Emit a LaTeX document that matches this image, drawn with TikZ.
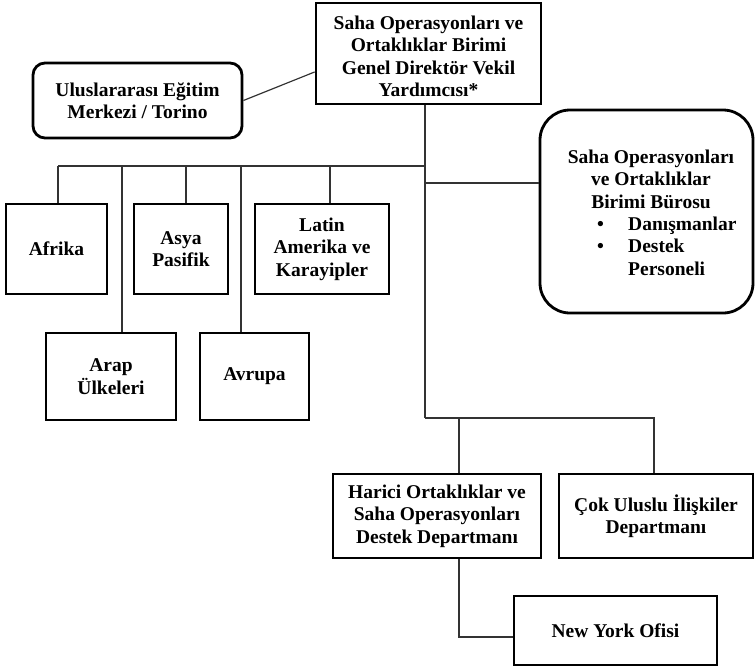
\documentclass[tikz,border=0pt]{standalone}
\usepackage{fontspec}
\setmainfont{Liberation Serif}
\usetikzlibrary{calc}
\begin{document}
\begin{tikzpicture}[x=1pt,y=-1pt,
  box/.style={draw=black, line width=2.8pt, rectangle, inner sep=0pt, align=center,
    font=\bfseries\fontsize{19.5}{22.5}\selectfont},
  label/.style={inner sep=0pt, font=\bfseries\fontsize{19.5}{22.5}\selectfont},
  link/.style={draw=black!80, line width=1.2pt},
]
\useasboundingbox (0,0) rectangle (755,667);

% --- head of the unit ---
\node[box, minimum width=225pt, minimum height=101pt] (top) at (428.5,53.5) {};
\node[label, align=center] (toptext) at (428.5,56.5)
  {Saha Operasyonları ve\\ Ortaklıklar Birimi\\ Genel Direktör Vekil\\ Yardımcısı*};

\node[box, rounded corners=12pt, minimum width=209pt, minimum height=75pt] (intl) at (137.5,100.5)
  {Uluslararası Eğitim\\ Merkezi / Torino};

% --- office box with its text ---
\node[box, rounded corners=30pt, minimum width=213pt, minimum height=203pt] (office) at (646.5,211.5) {};
\node[label, align=center] (officetext) at (651,179)
  {Saha Operasyonları\\ ve Ortaklıklar\\ Birimi Bürosu};
\node[label, align=left, anchor=west] (officelist) at (597,246)
  {\makebox[31pt][l]{\textbullet}Danışmanlar\\
   \makebox[31pt][l]{\textbullet}Destek\\
   \hspace*{31pt}Personeli};

% --- regional bureaux ---
\node[box, minimum width=101pt, minimum height=90pt] (afrika) at (56.5,249) {Afrika};
\node[box, minimum width=94pt,  minimum height=90pt] (asya)   at (181,249) {Asya\\ Pasifik};
\node[box, minimum width=134pt, minimum height=90pt] (latin)  at (322,249) {Latin\\ Amerika ve\\ Karayipler};
\node[box, minimum width=130pt, minimum height=87pt] (arap)   at (111,376.5) {Arap\\ Ülkeleri};
\node[box, minimum width=109pt, minimum height=87pt] (avrupa) at (254.5,376.5) {Avrupa};

% --- departments ---
\node[box, minimum width=208pt, minimum height=84pt] (harici) at (437,516)
  {Harici Ortaklıklar ve\\ Saha Operasyonları\\ Destek Departmanı};
\node[box, minimum width=194pt, minimum height=84pt] (cok) at (656,516)
  {Çok Uluslu İlişkiler\\ Departmanı};
\node[box, minimum width=203pt, minimum height=69pt] (newyork) at (615.5,630.5) {New York Ofisi};

% --- junction points ---
\coordinate (jTop) at (425,166);
\coordinate (jOffice) at (425,183);
\coordinate (jBottom) at (425,418);
\coordinate (busWest) at (58,166);
\coordinate (bArap) at (122,166);
\coordinate (bAsya) at (186,166);
\coordinate (bAvrupa) at (241,166);
\coordinate (bLatin) at (330,166);
\coordinate (bHarici) at (459,418);
\coordinate (busEast) at (654,418);
\coordinate (nyCorner) at (459,637);

% --- connectors ---
\draw[link] (top.south -| jTop) -- (jBottom);
\draw[link] (busWest) -- (jTop);
\draw[link] (busWest) -- (afrika.north -| busWest);
\draw[link] (bArap) -- (arap.north -| bArap);
\draw[link] (bAsya) -- (asya.north -| bAsya);
\draw[link] (bAvrupa) -- (avrupa.north -| bAvrupa);
\draw[link] (bLatin) -- (latin.north -| bLatin);
\draw[link] (jOffice) -- (office.west |- jOffice);
\draw[link] (jBottom) -- (busEast) -- (cok.north -| busEast);
\draw[link] (bHarici) -- (harici.north -| bHarici);
\draw[link] (harici.south -| nyCorner) -- (nyCorner) -- (newyork.west |- nyCorner);
\draw[link] (intl.east) -- ([yshift=-18.5pt]top.west);
\end{tikzpicture}
\end{document}
